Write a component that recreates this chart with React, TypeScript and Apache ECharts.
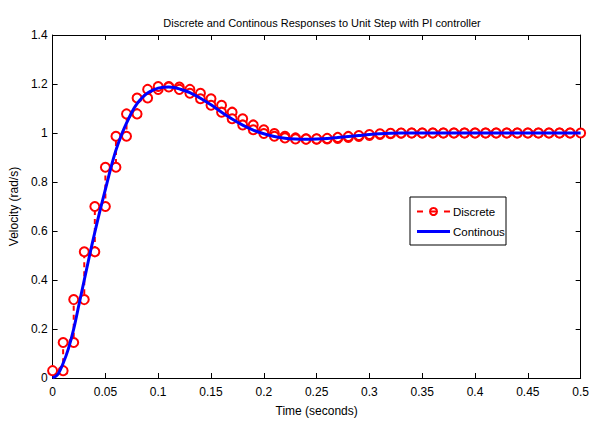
import React, { useEffect, useRef } from "react";
import * as echarts from "echarts";

const titleText = "Discrete and Continous Responses to Unit Step with PI controller";
const xLabel = "Time (seconds)";
const yLabel = "Velocity (rad/s)";
const seriesNames = ["Discrete", "Continous"];

// Discrete (sampled, T = 0.01 s) values y_k held on [t_k, t_k+1)
const sampleTimes = [
  0, 0.01, 0.02, 0.03, 0.04, 0.05, 0.06, 0.07, 0.08, 0.09,
  0.1, 0.11, 0.12, 0.13, 0.14, 0.15, 0.16, 0.17, 0.18, 0.19,
  0.2, 0.21, 0.22, 0.23, 0.24, 0.25, 0.26, 0.27, 0.28, 0.29,
  0.3, 0.31, 0.32, 0.33, 0.34, 0.35, 0.36, 0.37, 0.38, 0.39,
  0.4, 0.41, 0.42, 0.43, 0.44, 0.45, 0.46, 0.47, 0.48, 0.49, 0.5,
];
const discreteValues = [
  0.03, 0.145, 0.32, 0.515, 0.7, 0.86, 0.987, 1.078, 1.143, 1.178,
  1.19, 1.188, 1.178, 1.162, 1.14, 1.113, 1.085, 1.058, 1.033, 1.013,
  0.998, 0.987, 0.98, 0.976, 0.975, 0.976, 0.978, 0.982, 0.986, 0.99,
  0.994, 0.997, 0.999, 1.0, 1.0, 1.0, 1.0, 1.0, 1.0, 1.0,
  1.0, 1.0, 1.0, 1.0, 1.0, 1.0, 1.0, 1.0, 1.0, 1.0,
];

// Continuous response
const contTimes = [
  0, 0.005, 0.01, 0.015, 0.02, 0.025, 0.03, 0.035, 0.04, 0.045,
  0.05, 0.055, 0.06, 0.065, 0.07, 0.075, 0.08, 0.085, 0.09, 0.095,
  0.1, 0.105, 0.11, 0.115, 0.12, 0.13, 0.14, 0.15, 0.16, 0.17,
  0.18, 0.19, 0.2, 0.21, 0.22, 0.23, 0.24, 0.25, 0.26, 0.27,
  0.28, 0.29, 0.3, 0.31, 0.32, 0.33, 0.35, 0.4, 0.45, 0.5,
];
const contValues = [
  0, 0.015, 0.06, 0.12, 0.2, 0.3, 0.4, 0.5, 0.595, 0.685,
  0.77, 0.855, 0.93, 0.99, 1.04, 1.085, 1.12, 1.145, 1.163, 1.175,
  1.183, 1.187, 1.188, 1.186, 1.18, 1.165, 1.142, 1.115, 1.085, 1.057,
  1.032, 1.012, 0.997, 0.986, 0.979, 0.976, 0.975, 0.976, 0.978, 0.982,
  0.986, 0.99, 0.994, 0.997, 0.999, 1.0, 1.0, 1.0, 1.0, 1.0,
];

const FONT = "'Liberation Sans', Arial, sans-serif";

export default function App() {
  const ref = useRef<HTMLDivElement>(null);
  useEffect(() => {
    if (!ref.current) return;
    const chart = echarts.init(ref.current, undefined, { renderer: "svg" });

    const stairs: [number, number][] = [];
    for (let k = 0; k < discreteValues.length; k++) {
      stairs.push([sampleTimes[k], discreteValues[k]]);
      stairs.push([sampleTimes[k + 1], discreteValues[k]]);
    }
    const cont: [number, number][] = contTimes.map((t, i) => [t, contValues[i]]);

    const fmt = (v: number) => String(+v.toFixed(2));
    const axisCommon = {
      type: "value" as const,
      axisLine: { show: true, onZero: false, lineStyle: { color: "#000", width: 1 } },
      axisTick: { show: true, inside: true, length: 5, lineStyle: { color: "#000" } },
      splitLine: { show: false },
    };

    // legend box geometry
    const lx = 410, ly = 197, lw = 96, lh = 48;
    const r1 = ly + 14.5, r2 = ly + 34.5;

    chart.setOption({
      animation: false,
      backgroundColor: "#fff",
      title: {
        text: titleText,
        left: 317,
        top: 12,
        textAlign: "center",
        textStyle: { fontFamily: FONT, fontSize: 11, fontWeight: "normal", color: "#000" },
      },
      grid: { left: 49, top: 35, width: 536, height: 344 },
      graphic: [
        {
          type: "group",
          z: 100,
          children: [
            { type: "rect", shape: { x: lx, y: ly, width: lw, height: lh }, style: { fill: "#fff", stroke: "#000", lineWidth: 1 } },
            { type: "line", shape: { x1: lx + 7, y1: r1, x2: lx + 13, y2: r1 }, style: { stroke: "#ff0000", lineWidth: 2 } },
            { type: "line", shape: { x1: lx + 20, y1: r1, x2: lx + 27, y2: r1 }, style: { stroke: "#ff0000", lineWidth: 2 } },
            { type: "circle", shape: { cx: lx + 23.5, cy: r1, r: 3.5 }, style: { fill: "none", stroke: "#ff0000", lineWidth: 2 } },
            { type: "line", shape: { x1: lx + 34, y1: r1, x2: lx + 40, y2: r1 }, style: { stroke: "#ff0000", lineWidth: 2 } },
            { type: "text", x: lx + 43, y: r1, style: { text: seriesNames[0], font: `11.5px ${FONT}`, fill: "#000", verticalAlign: "middle" } },
            { type: "line", shape: { x1: lx + 7, y1: r2, x2: lx + 40, y2: r2 }, style: { stroke: "#0000ff", lineWidth: 3 } },
            { type: "text", x: lx + 43, y: r2, style: { text: seriesNames[1], font: `11.5px ${FONT}`, fill: "#000", verticalAlign: "middle" } },
          ],
        },
      ],
      xAxis: [
        {
          ...axisCommon,
          min: 0,
          max: 0.5,
          interval: 0.05,
          position: "bottom",
          name: xLabel,
          nameLocation: "middle",
          nameGap: 27,
          nameTextStyle: { fontFamily: FONT, fontSize: 12, color: "#000" },
          axisLabel: { formatter: fmt, fontFamily: FONT, fontSize: 12, color: "#000", margin: 8 },
        },
        {
          ...axisCommon,
          min: 0,
          max: 0.5,
          interval: 0.05,
          position: "top",
          axisLabel: { show: false },
        },
      ],
      yAxis: [
        {
          ...axisCommon,
          min: 0,
          max: 1.4,
          interval: 0.2,
          position: "left",
          name: yLabel,
          nameLocation: "middle",
          nameGap: 27,
          nameTextStyle: { fontFamily: FONT, fontSize: 12, color: "#000" },
          axisLabel: { formatter: fmt, fontFamily: FONT, fontSize: 12, color: "#000", margin: 5 },
        },
        {
          ...axisCommon,
          min: 0,
          max: 1.4,
          interval: 0.2,
          position: "right",
          axisLabel: { show: false },
        },
      ],
      series: [
        {
          name: seriesNames[0],
          type: "line",
          data: stairs,
          symbol: "circle",
          symbolSize: 9,
          showAllSymbol: true,
          itemStyle: { color: "#fff", borderColor: "#ff0000", borderWidth: 2 },
          lineStyle: { color: "#ff0000", width: 2, type: [5, 4] },
          z: 2,
        },
        {
          name: seriesNames[1],
          type: "line",
          data: cont,
          smooth: 0.3,
          symbol: "none",
          itemStyle: { color: "#0000ff" },
          lineStyle: { color: "#0000ff", width: 3 },
          z: 3,
        },
      ],
    });
    return () => chart.dispose();
  }, []);
  return <div ref={ref} style={{ position: "fixed", left: 0, top: 0, width: 592, height: 422 }} />;
}
